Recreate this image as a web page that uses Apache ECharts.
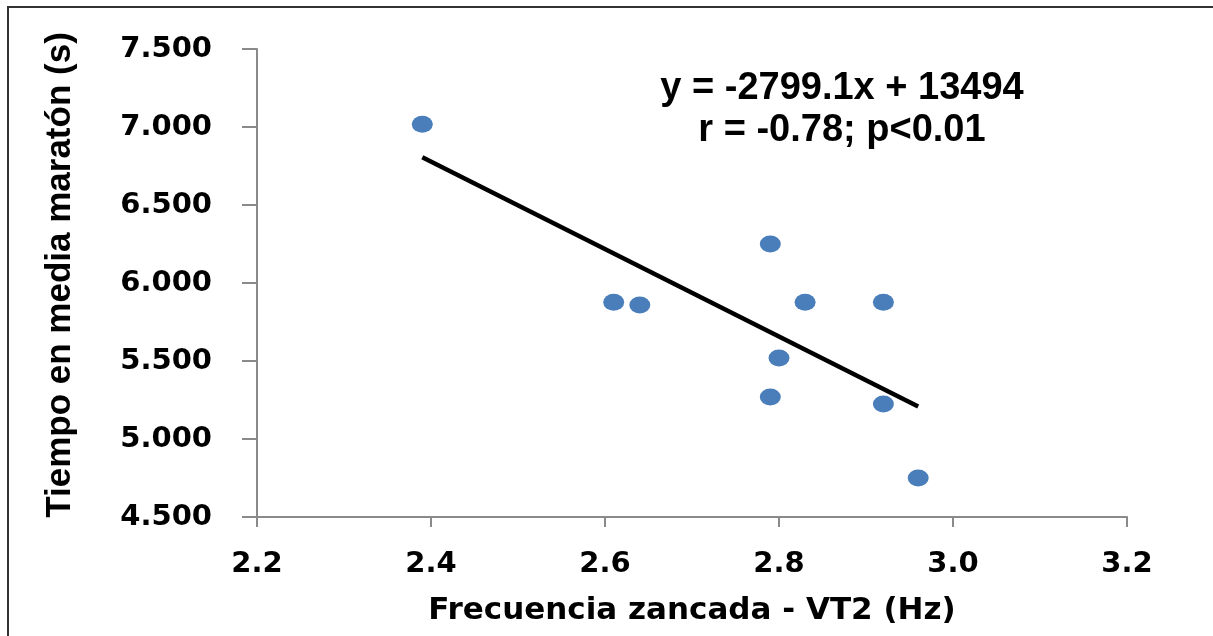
<!DOCTYPE html>
<html>
<head>
<meta charset="utf-8">
<script src="https://cdn.jsdelivr.net/npm/echarts@6/dist/echarts.min.js"></script>
<style>
    html, body { margin: 0; padding: 0; background: #fff; }
    #chart { width: 1213px; height: 636px; }
</style>
</head>
<body>
<div id="chart"></div>
<script>
// Stride frequency at VT2 (Hz) vs half marathon time (s)
const frecuencia = [2.39, 2.61, 2.64, 2.79, 2.83, 2.92, 2.80, 2.79, 2.92, 2.96];
const tiempo = [7018, 5877, 5859, 6250, 5877, 5877, 5519, 5269, 5224, 4750];

// trend line end points
const trendX = [2.39, 2.96];
const trendY = [6806, 5209];

const xTicks = {min: 2.2, max: 3.2, interval: 0.2};
const yTicks = {min: 4500, max: 7500, interval: 500};

const ecuacion = 'y = -2799.1x + 13494';
const correlacion = 'r = -0.78; p<0.01';

function getOption() {
    const points = frecuencia.map((x, i) => [x, tiempo[i]]);
    const trend = trendX.map((x, i) => [x, trendY[i]]);

    const axisGrey = '#8a8a8a';

    const option = {
        animation: false,
        grid: {left: 257, right: 86, top: 49, bottom: 119},
        xAxis: {
            type: 'value',
            min: xTicks.min,
            max: xTicks.max,
            interval: xTicks.interval,
            name: 'Frecuencia zancada - VT2 (Hz)',
            nameLocation: 'middle',
            nameGap: 78,
            nameTextStyle: {
                fontFamily: 'DejaVu Sans',
                fontWeight: 'bold',
                fontSize: 31,
                color: '#000',
            },
            axisLine: {lineStyle: {color: axisGrey, width: 2}},
            axisTick: {length: 10, lineStyle: {color: axisGrey, width: 2}},
            splitLine: {show: false},
            axisLabel: {
                margin: 33,
                fontFamily: 'DejaVu Sans',
                fontWeight: 'bold',
                fontSize: 29,
                color: '#000',
                formatter: (v) => v.toFixed(1),
            },
        },
        yAxis: {
            type: 'value',
            min: yTicks.min,
            max: yTicks.max,
            interval: yTicks.interval,
            name: 'Tiempo en media maratón (s)',
            nameLocation: 'middle',
            nameGap: 179,
            nameRotate: 90,
            nameTextStyle: {
                fontFamily: 'Liberation Sans',
                fontWeight: 'bold',
                fontSize: 35,
                color: '#000',
                padding: [0, 0, 0, 16],
            },
            axisLine: {show: true, lineStyle: {color: axisGrey, width: 2}},
            axisTick: {show: true, length: 15, lineStyle: {color: axisGrey, width: 2}},
            splitLine: {show: false},
            axisLabel: {
                margin: 45,
                fontFamily: 'DejaVu Sans',
                fontWeight: 'bold',
                fontSize: 29,
                color: '#000',
                formatter: (v) => (v / 1000).toFixed(3),
            },
        },
        graphic: [
            {
                type: 'rect',
                silent: true,
                shape: {x: 8, y: 7, width: 1400, height: 800},
                style: {fill: 'none', stroke: '#333', lineWidth: 2},
            },
            {
                type: 'text',
                x: 842,
                y: 89,
                style: {
                    text: ecuacion,
                    align: 'center',
                    verticalAlign: 'middle',
                    font: 'bold 38px "Liberation Sans"',
                    fill: '#000',
                },
            },
            {
                type: 'text',
                x: 842,
                y: 131,
                style: {
                    text: correlacion,
                    align: 'center',
                    verticalAlign: 'middle',
                    font: 'bold 38px "Liberation Sans"',
                    fill: '#000',
                },
            },
        ],
        series: [
            {
                type: 'line',
                data: trend,
                symbol: 'none',
                lineStyle: {color: '#000', width: 4.5},
                z: 1,
            },
            {
                type: 'scatter',
                data: points,
                symbol: 'circle',
                symbolSize: [21, 17],
                itemStyle: {color: '#4a7ebb', opacity: 1},
                z: 2,
            },
        ],
    };

    return option;
}

const chart = echarts.init(document.getElementById('chart'));
chart.setOption(getOption());
window.addEventListener('resize', () => chart.resize());
</script>
</body>
</html>
